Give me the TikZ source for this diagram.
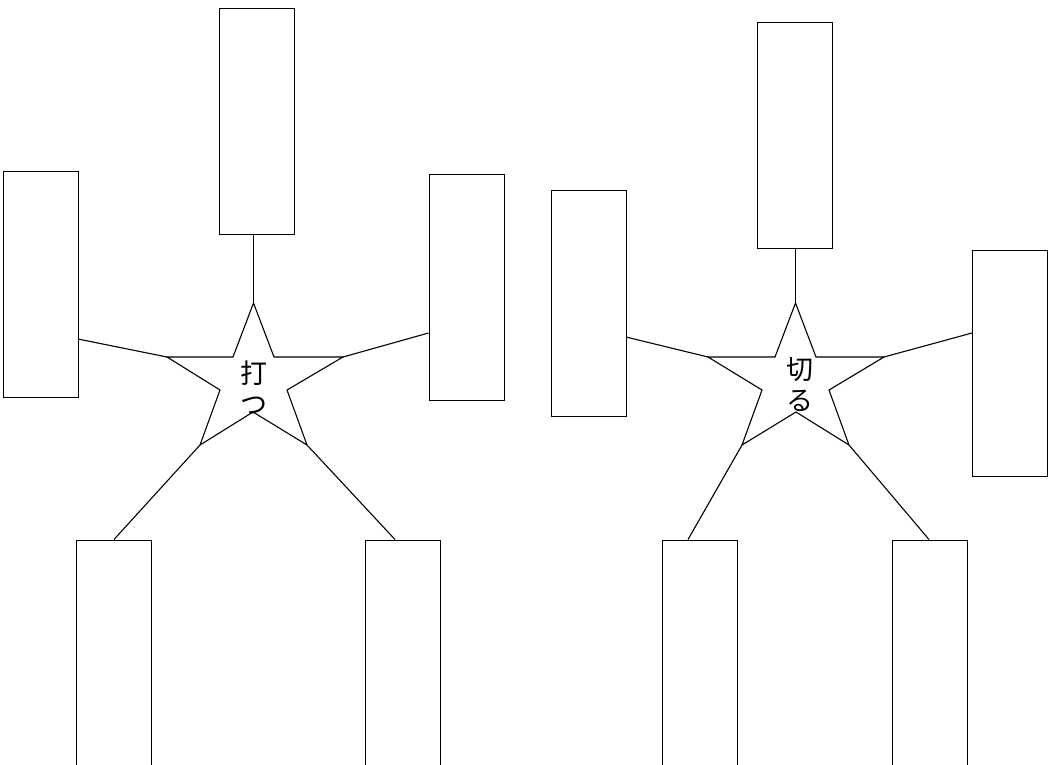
\documentclass[tikz,border=0pt]{standalone}
\usepackage{fontspec}
\newfontfamily\jpfont{Noto Sans CJK JP}
\begin{document}
\begin{tikzpicture}[x=1pt,y=-1pt,line width=1.1pt,
  box/.style={draw,rectangle,minimum width=75pt,minimum height=226pt,inner sep=0pt,anchor=north west},
  lbl/.style={font=\jpfont\fontsize{27}{31}\selectfont,align=center,inner sep=0pt}]
\useasboundingbox (0,0) rectangle (1053,764);
\clip (0,0) rectangle (1053,764);
% ---------- left group ----------
\node[box] (aT) at (218.5,7.5) {};
\node[box] (aL) at (3,171) {};
\node[box] (aR) at (428.5,174) {};
\node[box] (aBL) at (75.5,539.5) {};
\node[box] (aBR) at (364.5,539.5) {};
\coordinate (a1) at (253.5,303);
\coordinate (a2) at (274,357);
\coordinate (a3) at (343,357);
\coordinate (a4) at (287,390);
\coordinate (a5) at (307,445);
\coordinate (a6) at (253,412);
\coordinate (a7) at (200,445);
\coordinate (a8) at (220,390);
\coordinate (a9) at (167,357);
\coordinate (a10) at (233,357);
\draw[line join=miter] (a1)--(a2)--(a3)--(a4)--(a5)--(a6)--(a7)--(a8)--(a9)--(a10)--cycle;
\node[lbl] (aText) at (254,388) {打\\つ};
\coordinate (aTc) at (253.5,234);
\coordinate (aLc) at (78,339);
\coordinate (aRc) at (428.5,333);
\coordinate (aBLc) at (114,539.5);
\coordinate (aBRc) at (395,539.5);
\draw (aTc) -- (a1);
\draw (aLc) -- (a9);
\draw (aRc) -- (a3);
\draw (aBLc) -- (a7);
\draw (aBRc) -- (a5);
% ---------- right group ----------
\node[box] (bT) at (757,21.5) {};
\node[box] (bL) at (551,190) {};
\node[box] (bR) at (972,250) {};
\node[box] (bBL) at (661.5,539.5) {};
\node[box] (bBR) at (892,539.5) {};
\coordinate (b1) at (795.5,303);
\coordinate (b2) at (816,357);
\coordinate (b3) at (884,357);
\coordinate (b4) at (829,390);
\coordinate (b5) at (849,445);
\coordinate (b6) at (796,412);
\coordinate (b7) at (742,445);
\coordinate (b8) at (762,390);
\coordinate (b9) at (708,357);
\coordinate (b10) at (775,357);
\draw[line join=miter] (b1)--(b2)--(b3)--(b4)--(b5)--(b6)--(b7)--(b8)--(b9)--(b10)--cycle;
\node[lbl] (bText) at (800,385) {切\\る};
\coordinate (bTc) at (795.5,247.5);
\coordinate (bLc) at (626,337);
\coordinate (bRc) at (972,333);
\coordinate (bBLc) at (688,539.5);
\coordinate (bBRc) at (929,539.5);
\draw (bTc) -- (b1);
\draw (bLc) -- (b9);
\draw (bRc) -- (b3);
\draw (bBLc) -- (b7);
\draw (bBRc) -- (b5);
\end{tikzpicture}
\end{document}
